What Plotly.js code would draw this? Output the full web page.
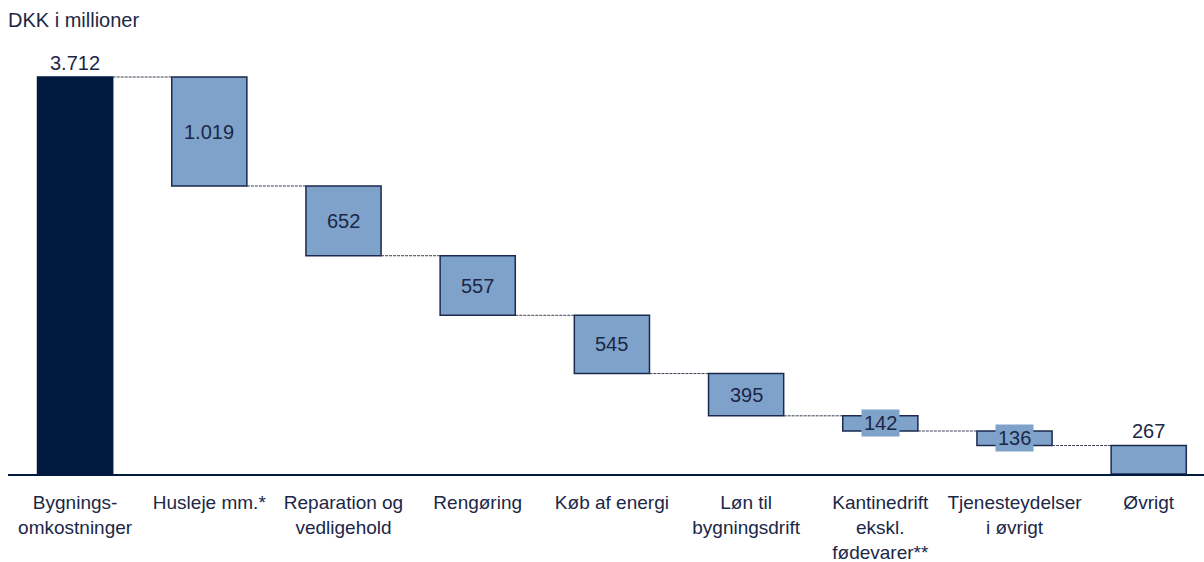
<!DOCTYPE html>
<html>
<head>
<meta charset="utf-8">
<script src="https://cdn.plot.ly/plotly-3.0.1.min.js"></script>
<style>
html,body{margin:0;padding:0;background:#fff;}
#chart{width:1204px;height:562px;}
</style>
</head>
<body>
<div id="chart"></div>
<script>
// ---- data ----
const categories = [
  "Bygnings-<br>omkostninger",
  "Husleje mm.*",
  "Reparation og<br>vedligehold",
  "Rengøring",
  "Køb af energi",
  "Løn til<br>bygningsdrift",
  "Kantinedrift<br>ekskl.<br>fødevarer**",
  "Tjenesteydelser<br>i øvrigt",
  "Øvrigt"
];
const startTotal = 3712;
const steps = [1019, 652, 557, 545, 395, 142, 136];
const restValue = 267;
const unitLabel = "DKK i millioner";

// ---- styling ----
const navy = "#001a40";
const lightBlue = "#7fa2ca";
const border = "#1b2a4e";
const textCol = "#1b2747";
const font = "Arial, 'Liberation Sans', sans-serif";
const barW = 0.56;

function fmt(v){
  return String(v).replace(/\B(?=(\d{3})+(?!\d))/g, ".");
}

// build bars
const xs = [], ys = [], bases = [], fills = [], lines = [];
xs.push(0); ys.push(startTotal); bases.push(0); fills.push(navy); lines.push(navy);
let running = startTotal;
const levels = [startTotal];
steps.forEach((s, i) => {
  running -= s;
  xs.push(i + 1); ys.push(s); bases.push(running); fills.push(lightBlue); lines.push(border);
  levels.push(running);
});
xs.push(steps.length + 1); ys.push(restValue); bases.push(0); fills.push(lightBlue); lines.push(border);

const barTrace = {
  type: "bar",
  x: xs, y: ys, base: bases,
  width: barW,
  marker: {color: fills, line: {color: lines, width: 1.5}},
  hoverinfo: "skip",
  showlegend: false
};

// connectors
const cx = [], cy = [];
for (let i = 0; i < xs.length - 1; i++) {
  cx.push(xs[i] + barW / 2, xs[i + 1] - barW / 2, null);
  cy.push(levels[i], levels[i], null);
}
const connTrace = {
  type: "scatter", mode: "lines",
  x: cx, y: cy,
  line: {color: "#3a3f52", width: 1, dash: "3px,1px"},
  hoverinfo: "skip", showlegend: false
};

// labels
const annotations = [];
annotations.push({
  x: xs[0], y: startTotal, text: fmt(startTotal), showarrow: false,
  yanchor: "bottom", yshift: 1, font: {size: 20, color: textCol, family: font}
});
steps.forEach((s, i) => {
  annotations.push({
    x: xs[i + 1], y: bases[i + 1] + s / 2, text: fmt(s), showarrow: false,
    bgcolor: lightBlue, borderpad: 2,
    font: {size: 20, color: textCol, family: font}
  });
});
annotations.push({
  x: xs[xs.length - 1], y: restValue, text: fmt(restValue), showarrow: false,
  yanchor: "bottom", yshift: 1, font: {size: 20, color: textCol, family: font}
});

const layout = {
  width: 1204, height: 562,
  margin: {l: 8, r: 0, t: 60, b: 88},
  paper_bgcolor: "#fff", plot_bgcolor: "#fff",
  font: {family: font, size: 20, color: textCol},
  title: {
    text: unitLabel, xref: "container", yref: "container",
    x: 8 / 1204, xanchor: "left", y: 1 - 20 / 562, yanchor: "middle",
    font: {size: 20, color: textCol, family: font}
  },
  xaxis: {
    range: [-0.5, 8.412],
    tickmode: "array", tickvals: xs, ticktext: categories,
    showline: true, linecolor: navy, linewidth: 1.5,
    showgrid: false, zeroline: false, ticks: "",
    ticklabelstandoff: 11,
    tickfont: {size: 19, color: textCol, family: font},
    fixedrange: true
  },
  yaxis: {
    range: [0, 3871], visible: false, showgrid: false, zeroline: false, fixedrange: true
  },
  annotations: annotations,
  bargap: 0
};

Plotly.newPlot("chart", [barTrace, connTrace], layout, {displayModeBar: false, staticPlot: true});
</script>
</body>
</html>
